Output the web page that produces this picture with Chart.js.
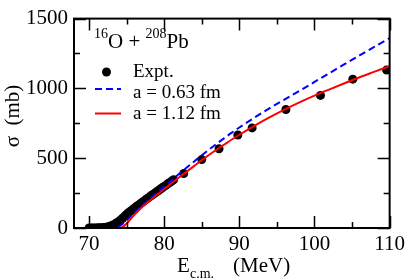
<!DOCTYPE html>
<html>
<head>
<meta charset="utf-8">
<script src="https://cdn.jsdelivr.net/npm/chart.js@4.4.1/dist/chart.umd.min.js"></script>
<style>
  html, body { margin: 0; padding: 0; background: #fff; }
  #wrap { width: 409px; height: 280px; position: relative; }
</style>
</head>
<body>
<div id="wrap"><canvas id="fusionChart"></canvas></div>
<script>
// measured fusion cross section, 16O + 208Pb
const exptEnergy = [
  70.0, 70.25, 70.5, 70.75, 71.0, 71.25, 71.5, 71.75, 72.0, 72.25, 72.5, 72.75,
  73.0, 73.25, 73.5, 73.75, 74.0, 74.25, 74.5, 74.75, 75.0, 75.25, 75.5, 75.75,
  76.0, 76.25, 76.5, 76.75, 77.0, 77.25, 77.5, 77.75, 78.0, 78.25, 78.5, 78.75,
  79.0, 79.25, 79.5, 79.75, 80.0, 80.25, 80.5, 80.75, 81.0, 81.25,
  82.6, 85.0, 87.3, 89.8, 91.7, 96.2, 100.8, 105.1, 109.6
];
const exptSigma = [
  0, 0, 0, 0, 0, 1, 1, 2, 3, 5, 8, 12,
  17, 23, 30, 39, 49, 60, 72, 85, 98, 109, 120, 130,
  141, 151, 161, 171, 181, 191, 201, 211, 221, 231, 240, 250,
  259, 269, 279, 288, 298, 307, 317, 326, 336, 346,
  390, 490, 568, 666, 717, 849, 950, 1066, 1132
];

// calculation, a = 0.63 fm
const smallDiffEnergy = [
  68, 73, 73.5, 74, 74.5, 75, 75.5, 76, 77, 78, 79, 80, 81, 82, 83, 84, 85,
  86, 87, 88, 89, 90, 92, 94, 96, 98, 100, 102, 104, 106, 108, 110
];
const smallDiffSigma = [
  0, 0, 3, 12, 30, 55, 82, 108, 157, 205, 252, 298, 343, 388, 433, 477, 521,
  563, 604, 644, 683, 720, 790, 857, 920, 982, 1046, 1110, 1174, 1237, 1299, 1361
];

// calculation, a = 1.12 fm
const largeDiffEnergy = [
  68, 73, 74, 74.5, 75, 75.5, 76, 76.5, 77, 78, 79, 80, 81, 82, 83, 84, 85,
  86, 87, 88, 89, 90, 92, 94, 96, 98, 100, 102, 104, 106, 108, 110
];
const largeDiffSigma = [
  0, 0, 0, 8, 32, 62, 93, 120, 147, 193, 237, 280, 322, 363, 404, 445, 486,
  525, 562, 598, 634, 668, 732, 792, 848, 900, 948, 993, 1037, 1080, 1120, 1160
];

const xTicks = [70, 80, 90, 100, 110];
const xMinorTicks = [75, 85, 95, 105];
const yTicks = [0, 500, 1000, 1500];
const yMinorTicks = [250, 750, 1250];

const SERIF = '"Liberation Serif", "Times New Roman", serif';

function toPoints(xs, ys) {
  return xs.map((x, i) => ({ x, y: ys[i] }));
}

// inward ticks on all four sides + frame
const frameTicks = {
  id: 'frameTicks',
  afterDatasetsDraw(chart) {
    const { ctx, chartArea: a, scales: { x, y } } = chart;
    ctx.save();
    ctx.strokeStyle = '#000';
    ctx.lineWidth = 1.5;
    const major = 12, minor = 6;
    const vTick = (v, len) => {
      const px = Math.round(x.getPixelForValue(v)) + 0.5;
      ctx.beginPath();
      ctx.moveTo(px, a.bottom); ctx.lineTo(px, a.bottom - len);
      ctx.moveTo(px, a.top); ctx.lineTo(px, a.top + len);
      ctx.stroke();
    };
    const hTick = (v, len) => {
      const py = Math.round(y.getPixelForValue(v)) + 0.5;
      ctx.beginPath();
      ctx.moveTo(a.left, py); ctx.lineTo(a.left + len, py);
      ctx.moveTo(a.right, py); ctx.lineTo(a.right - len, py);
      ctx.stroke();
    };
    xTicks.forEach(v => vTick(v, major));
    xMinorTicks.forEach(v => vTick(v, minor));
    yTicks.forEach(v => hTick(v, major));
    yMinorTicks.forEach(v => hTick(v, minor));
    ctx.lineWidth = 2;
    ctx.strokeRect(a.left, a.top, a.right - a.left, a.bottom - a.top);
    ctx.restore();
  }
};

// in-plot legend, reaction label and axis titles (need sub/superscripts)
const labels = {
  id: 'labels',
  afterDraw(chart) {
    const ctx = chart.ctx;
    ctx.save();
    ctx.fillStyle = '#000';
    ctx.textBaseline = 'alphabetic';
    ctx.textAlign = 'left';

    // 16O + 208Pb
    let cx = 94;
    const big = '21px ' + SERIF, small = '14px ' + SERIF;
    const part = (txt, font, dy) => {
      ctx.font = font;
      ctx.fillText(txt, cx, 48 + dy);
      cx += ctx.measureText(txt).width;
    };
    part('16', small, -10);
    part('O + ', big, 0);
    part('208', small, -10);
    part('Pb', big, 0);

    // legend
    ctx.font = '19px ' + SERIF;
    ctx.textBaseline = 'middle';
    ctx.beginPath();
    ctx.arc(106.5, 72, 4.5, 0, Math.PI * 2);
    ctx.fill();
    ctx.fillText('Expt.', 133, 72);

    ctx.lineWidth = 2;
    ctx.strokeStyle = '#0000ff';
    ctx.setLineDash([7, 4]);
    ctx.beginPath();
    ctx.moveTo(95, 89); ctx.lineTo(121, 89);
    ctx.stroke();
    ctx.fillText('a = 0.63 fm', 133, 93);

    ctx.strokeStyle = '#ff0000';
    ctx.setLineDash([]);
    ctx.beginPath();
    ctx.moveTo(95, 113.5); ctx.lineTo(121, 113.5);
    ctx.stroke();
    ctx.fillText('a = 1.12 fm', 133, 114);

    // x title
    ctx.textBaseline = 'alphabetic';
    ctx.font = '21px ' + SERIF;
    ctx.fillText('E', 177, 272);
    ctx.font = '14px ' + SERIF;
    ctx.fillText('c.m.', 190, 278);
    ctx.font = '21px ' + SERIF;
    ctx.fillText('(MeV)', 233, 272);

    // y title
    ctx.translate(13, 116);
    ctx.rotate(-Math.PI / 2);
    ctx.textAlign = 'center';
    ctx.textBaseline = 'middle';
    ctx.fillText('\u03c3  (mb)', 0, 0);
    ctx.restore();
  }
};

const canvas = document.getElementById('fusionChart');
new Chart(canvas.getContext('2d'), {
  type: 'scatter',
  data: {
    datasets: [
      {
        label: 'a = 1.12 fm',
        data: toPoints(largeDiffEnergy, largeDiffSigma),
        showLine: true,
        borderColor: '#ff0000',
        borderWidth: 2,
        pointRadius: 0,
        cubicInterpolationMode: 'monotone',
        order: 0
      },
      {
        label: 'a = 0.63 fm',
        data: toPoints(smallDiffEnergy, smallDiffSigma),
        showLine: true,
        borderColor: '#0000ff',
        borderWidth: 2,
        borderDash: [7, 4],
        pointRadius: 0,
        cubicInterpolationMode: 'monotone',
        order: 1
      },
      {
        label: 'Expt.',
        data: toPoints(exptEnergy, exptSigma),
        pointRadius: 4.5,
        pointBackgroundColor: '#000',
        pointBorderWidth: 0,
        order: 2
      }
    ]
  },
  options: {
    responsive: true,
    maintainAspectRatio: false,
    animation: false,
    layout: { padding: { left: 0, right: 18, top: 9, bottom: 0 } },
    plugins: {
      legend: { display: false },
      tooltip: { enabled: false }
    },
    scales: {
      x: {
        type: 'linear',
        min: 68,
        max: 110,
        afterBuildTicks(scale) { scale.ticks = xTicks.map(v => ({ value: v })); },
        afterFit(scale) { scale.height = 52; },
        grid: { display: false, drawTicks: false },
        border: { display: false },
        ticks: {
          padding: 4,
          color: '#000',
          font: { family: SERIF, size: 21 },
          maxRotation: 0,
          callback: v => String(v)
        }
      },
      y: {
        type: 'linear',
        min: 0,
        max: 1500,
        afterBuildTicks(scale) { scale.ticks = yTicks.map(v => ({ value: v })); },
        afterFit(scale) { scale.width = 74; },
        grid: { display: false, drawTicks: false },
        border: { display: false },
        ticks: {
          padding: 6,
          color: '#000',
          font: { family: SERIF, size: 21 },
          callback: v => String(v)
        }
      }
    }
  },
  plugins: [frameTicks, labels]
});
</script>
</body>
</html>
